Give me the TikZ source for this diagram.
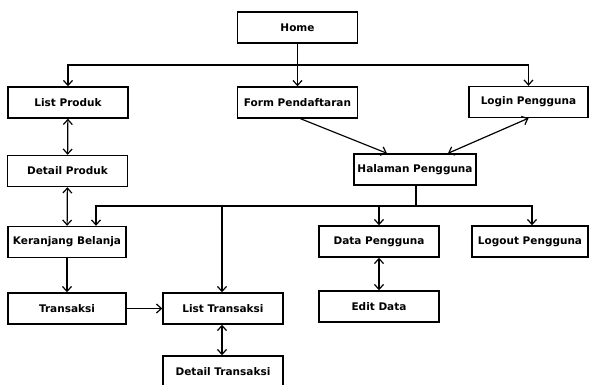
\documentclass[tikz,border=0pt]{standalone}
\usepackage{fontspec}
\setmainfont{DejaVu Sans}
\usetikzlibrary{arrows.meta}

\tikzset{menu/.style={draw, line width=1.4pt, minimum width=120pt, minimum height=31pt, inner sep=2pt, font=\bfseries\fontsize{10.5}{12}\selectfont},
link/.style={-{Straight Barb[length=5pt,width=9pt]}, line width=1.2pt},
both/.style={{Straight Barb[length=5pt,width=9pt]}-{Straight Barb[length=5pt,width=9pt]}, line width=1.2pt}}

\begin{document}
\begin{tikzpicture}[x=1pt, y=-1pt]
\useasboundingbox (0,0) rectangle (589,385);
\node[menu] (home) at (297.5,27.5) {Home};
\node[menu] (listproduk) at (68,102.5) {List Produk};
\node[menu] (form) at (297.5,102.5) {Form Pendaftaran};
\node[menu, minimum width=119pt] (login) at (528.5,102) {Login Pengguna};
\node[menu] (detailproduk) at (67.5,171) {Detail Produk};
\node[menu, minimum width=122pt] (halaman) at (415,169.5) {Halaman Pengguna};
\node[menu, minimum width=118pt] (keranjang) at (67,242) {Keranjang Belanja};
\node[menu, minimum width=118pt] (transaksi) at (67,308.5) {Transaksi};
\node[menu] (listtransaksi) at (223,308.5) {List Transaksi};
\node[menu] (detailtransaksi) at (223,371.5) {Detail Transaksi};
\node[menu] (datapengguna) at (379,241.5) {Data Pengguna};
\node[menu, minimum width=116pt] (logout) at (530,241.5) {Logout Pengguna};
\node[menu] (editdata) at (379,306.5) {Edit Data};
% dari home
\coordinate (split) at (297.5,65);
\draw[link] (home.south) -- (form.north);
\draw[link] (split) -| (listproduk.north);
\draw[link] (split) -| (login.north);
\draw[link] ([xshift=3pt]form.south) -- ([xshift=-28pt]halaman.north);
\draw[both] (login.south) -- ([xshift=33pt]halaman.north);
% dari halaman pengguna
\coordinate (hub) at (416,206);
\draw[line width=1.2pt] ([xshift=1pt]halaman.south) -- (hub);
\draw[link] (hub) -| ([xshift=29pt]keranjang.north);
\draw[link] (hub) -| ([xshift=-1pt]listtransaksi.north);
\draw[link] (hub) -| (datapengguna.north);
\draw[link] (hub) -| ([xshift=2pt]logout.north);
% alur belanja
\draw[both] (listproduk) -- (detailproduk);
\draw[both] (detailproduk) -- (keranjang);
\draw[link] (keranjang) -- (transaksi);
\draw[link] (transaksi) -- (listtransaksi);
\draw[both] ([xshift=-1pt]listtransaksi.south) -- ([xshift=-1pt]detailtransaksi.north);
\draw[both] (datapengguna) -- (editdata);
\end{tikzpicture}
\end{document}
